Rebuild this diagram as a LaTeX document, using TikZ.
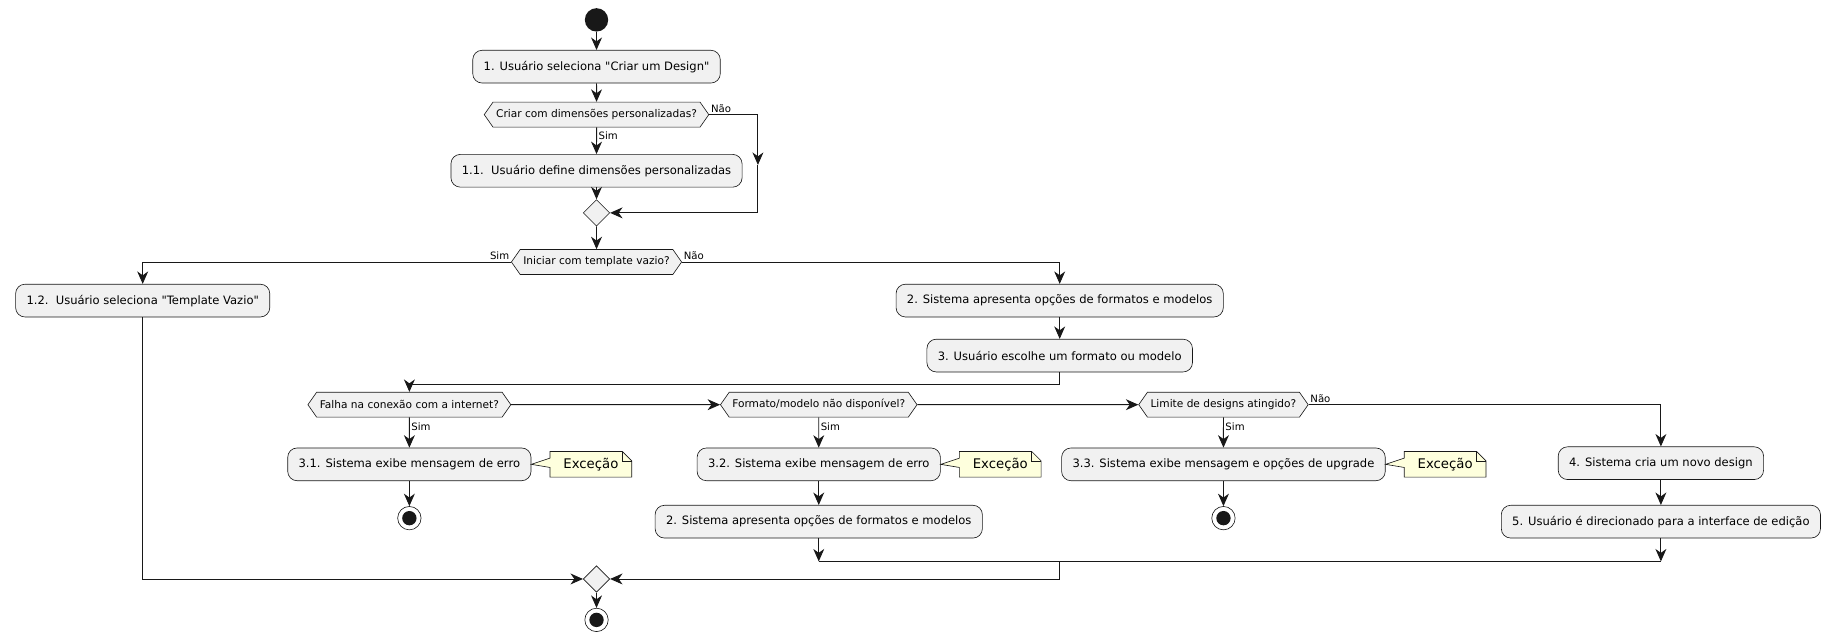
\documentclass[tikz,border=0pt]{standalone}
\usepackage{fontspec}
\setmainfont{DejaVu Sans}[Ligatures=TeXOff]
\usepackage{tikz}
\usetikzlibrary{calc, positioning, arrows.meta, shapes.symbols, shapes.geometric}
\definecolor{actfill}{HTML}{F1F1F1}
\definecolor{notefill}{HTML}{FEFFDD}
\definecolor{umlline}{HTML}{181818}
\tikzset{
    act/.style={rectangle, rounded corners=6pt, draw=umlline, fill=actfill, font=\fontsize{7.4}{8}\selectfont, minimum height=21pt, inner xsep=7pt},
    cond/.style={signal, signal to=west and east, signal pointer angle=110, draw=umlline, fill=actfill, font=\fontsize{6.8}{7}\selectfont, minimum height=16pt, inner xsep=2pt},
    merge/.style={diamond, draw=umlline, fill=actfill, minimum size=17pt, inner sep=0pt},
    start/.style={circle, fill=umlline, minimum size=15pt, inner sep=0pt},
    stop/.style={circle, draw=umlline, fill=white, minimum size=15pt, inner sep=0pt, path picture={\fill[umlline] (path picture bounding box.center) circle (4.6pt);}},
    note/.style={rectangle, font=\fontsize{8.5}{9}\selectfont, minimum height=16pt, minimum width=52pt, inner sep=1pt},
    lbl/.style={font=\fontsize{6.5}{7}\selectfont, inner sep=1pt},
    flow/.style={-{Stealth[length=8pt, width=7pt, inset=2.5pt]}, draw=umlline, semithick},
    line/.style={draw=umlline, semithick}
}
\begin{document}
\begin{tikzpicture}[x=0.75pt, y=-0.75pt]
    \useasboundingbox (0,0) rectangle (1568,549);

    % Upper part
    \node[start] (s0) at (510,17) {};
    \node[act] (a1) at (510,57) {1. Usuário seleciona "Criar um Design"};
    \node[cond] (c1) at (510,98) {Criar com dimensões personalizadas?};
    \node[act] (a11) at (510,146) {1.1.\ \ Usuário define dimensões personalizadas};
    \node[merge] (m1) at (510,182) {};
    \node[cond] (c2) at (510,224) {Iniciar com template vazio?};

    \draw[flow] (s0) -- (a1);
    \draw[flow] (a1) -- (c1);
    \draw[flow] (c1) -- node[lbl, right, pos=0.3] {Sim} (a11);
    \draw[flow] (a11) -- (m1);
    \coordinate (n1) at (648,141);
    \draw[flow] (c1.east) -- (c1.east -| n1) -- (n1);
    \draw[flow] (n1) -- (n1 |- m1) -- (m1.east);
    \node[lbl, anchor=south west] at (c1.east) {Não};
    \draw[flow] (m1) -- (c2);

    % Template branches
    \node[act] (a12) at (122,257) {1.2.\ \ Usuário seleciona "Template Vazio"};
    \node[act] (a2) at (906,257) {2. Sistema apresenta opções de formatos e modelos};
    \node[act] (a3) at (906,304) {3. Usuário escolhe um formato ou modelo};
    \draw[flow] (c2.west) -- (c2.west -| a12) -- (a12);
    \node[lbl, anchor=south east] at (c2.west) {Sim};
    \draw[flow] (c2.east) -- (c2.east -| a2) -- (a2);
    \node[lbl, anchor=south west] at (c2.east) {Não};
    \draw[flow] (a2) -- (a3);

    % Checks
    \node[cond] (cf) at (350,346) {Falha na conexão com a internet?};
    \node[cond] (cm) at (700,346) {Formato/modelo não disponível?};
    \node[cond] (cl) at (1046,346) {Limite de designs atingido?};
    \draw[flow] (a3.south) -- ++(0,-8pt) -| (cf);
    \draw[flow] (cf) -- (cm);
    \draw[flow] (cm) -- (cl);

    \node[act] (a31) at (350,397) {3.1. Sistema exibe mensagem de erro};
    \node[act] (a32) at (700,397) {3.2. Sistema exibe mensagem de erro};
    \node[act] (a33) at (1046,397) {3.3. Sistema exibe mensagem e opções de upgrade};
    \node[act] (a2b) at (700,446) {2. Sistema apresenta opções de formatos e modelos};
    \node[act] (a4) at (1420,396) {4. Sistema cria um novo design};
    \node[act] (a5) at (1420,446) {5. Usuário é direcionado para a interface de edição};
    \node[stop] (e1) at (350,443) {};
    \node[stop] (e3) at (1046,443) {};

    \foreach \c/\a in {cf/a31, cm/a32, cl/a33}
        \draw[flow] (\c) -- node[lbl, right, pos=0.3] {Sim} (\a);
    \draw[flow] (a31) -- (e1);
    \draw[flow] (a33) -- (e3);
    \draw[flow] (a32) -- (a2b);
    \draw[flow] (cl.east) -- (cl.east -| a4) -- (a4);
    \node[lbl, anchor=south west] at (cl.east) {Não};
    \draw[flow] (a4) -- (a5);

    % Notes
    \foreach \a/\n in {a31/x1, a32/x2, a33/x3} {
        \node[note, right=12pt of \a] (\n) {};
        \filldraw[fill=notefill, draw=umlline, thin] (\n.north west) -- ($(\n.north east)+(-6pt,0)$) -- ($(\n.north east)+(0,-6pt)$) -- (\n.south east) -- (\n.south west) -- ($(\n.west)+(0,-2pt)$) -- (\a.east) -- ($(\n.west)+(0,4pt)$) -- cycle;
        \draw[umlline, thin] ($(\n.north east)+(-6pt,0)$) -- ($(\n.north east)+(-6pt,-6pt)$) -- ($(\n.north east)+(0,-6pt)$);
        \node[note] at (\n) {Exceção};
    }

    % Merge at the end
    \coordinate (j1) at (700,480);
    \coordinate (j2) at (1420,480);
    \node[merge] (m2) at (510,495) {};
    \node[stop] (e0) at (510,530) {};
    \draw[flow] (a2b) -- (j1);
    \draw[flow] (a5) -- (j2);
    \draw[line] (j1) -- (j2);
    \draw[flow] (906,480) -- (906,495) -- (m2.east);
    \draw[flow] (a12) -- (a12 |- m2) -- (m2.west);
    \draw[flow] (m2) -- (e0);
\end{tikzpicture}
\end{document}
